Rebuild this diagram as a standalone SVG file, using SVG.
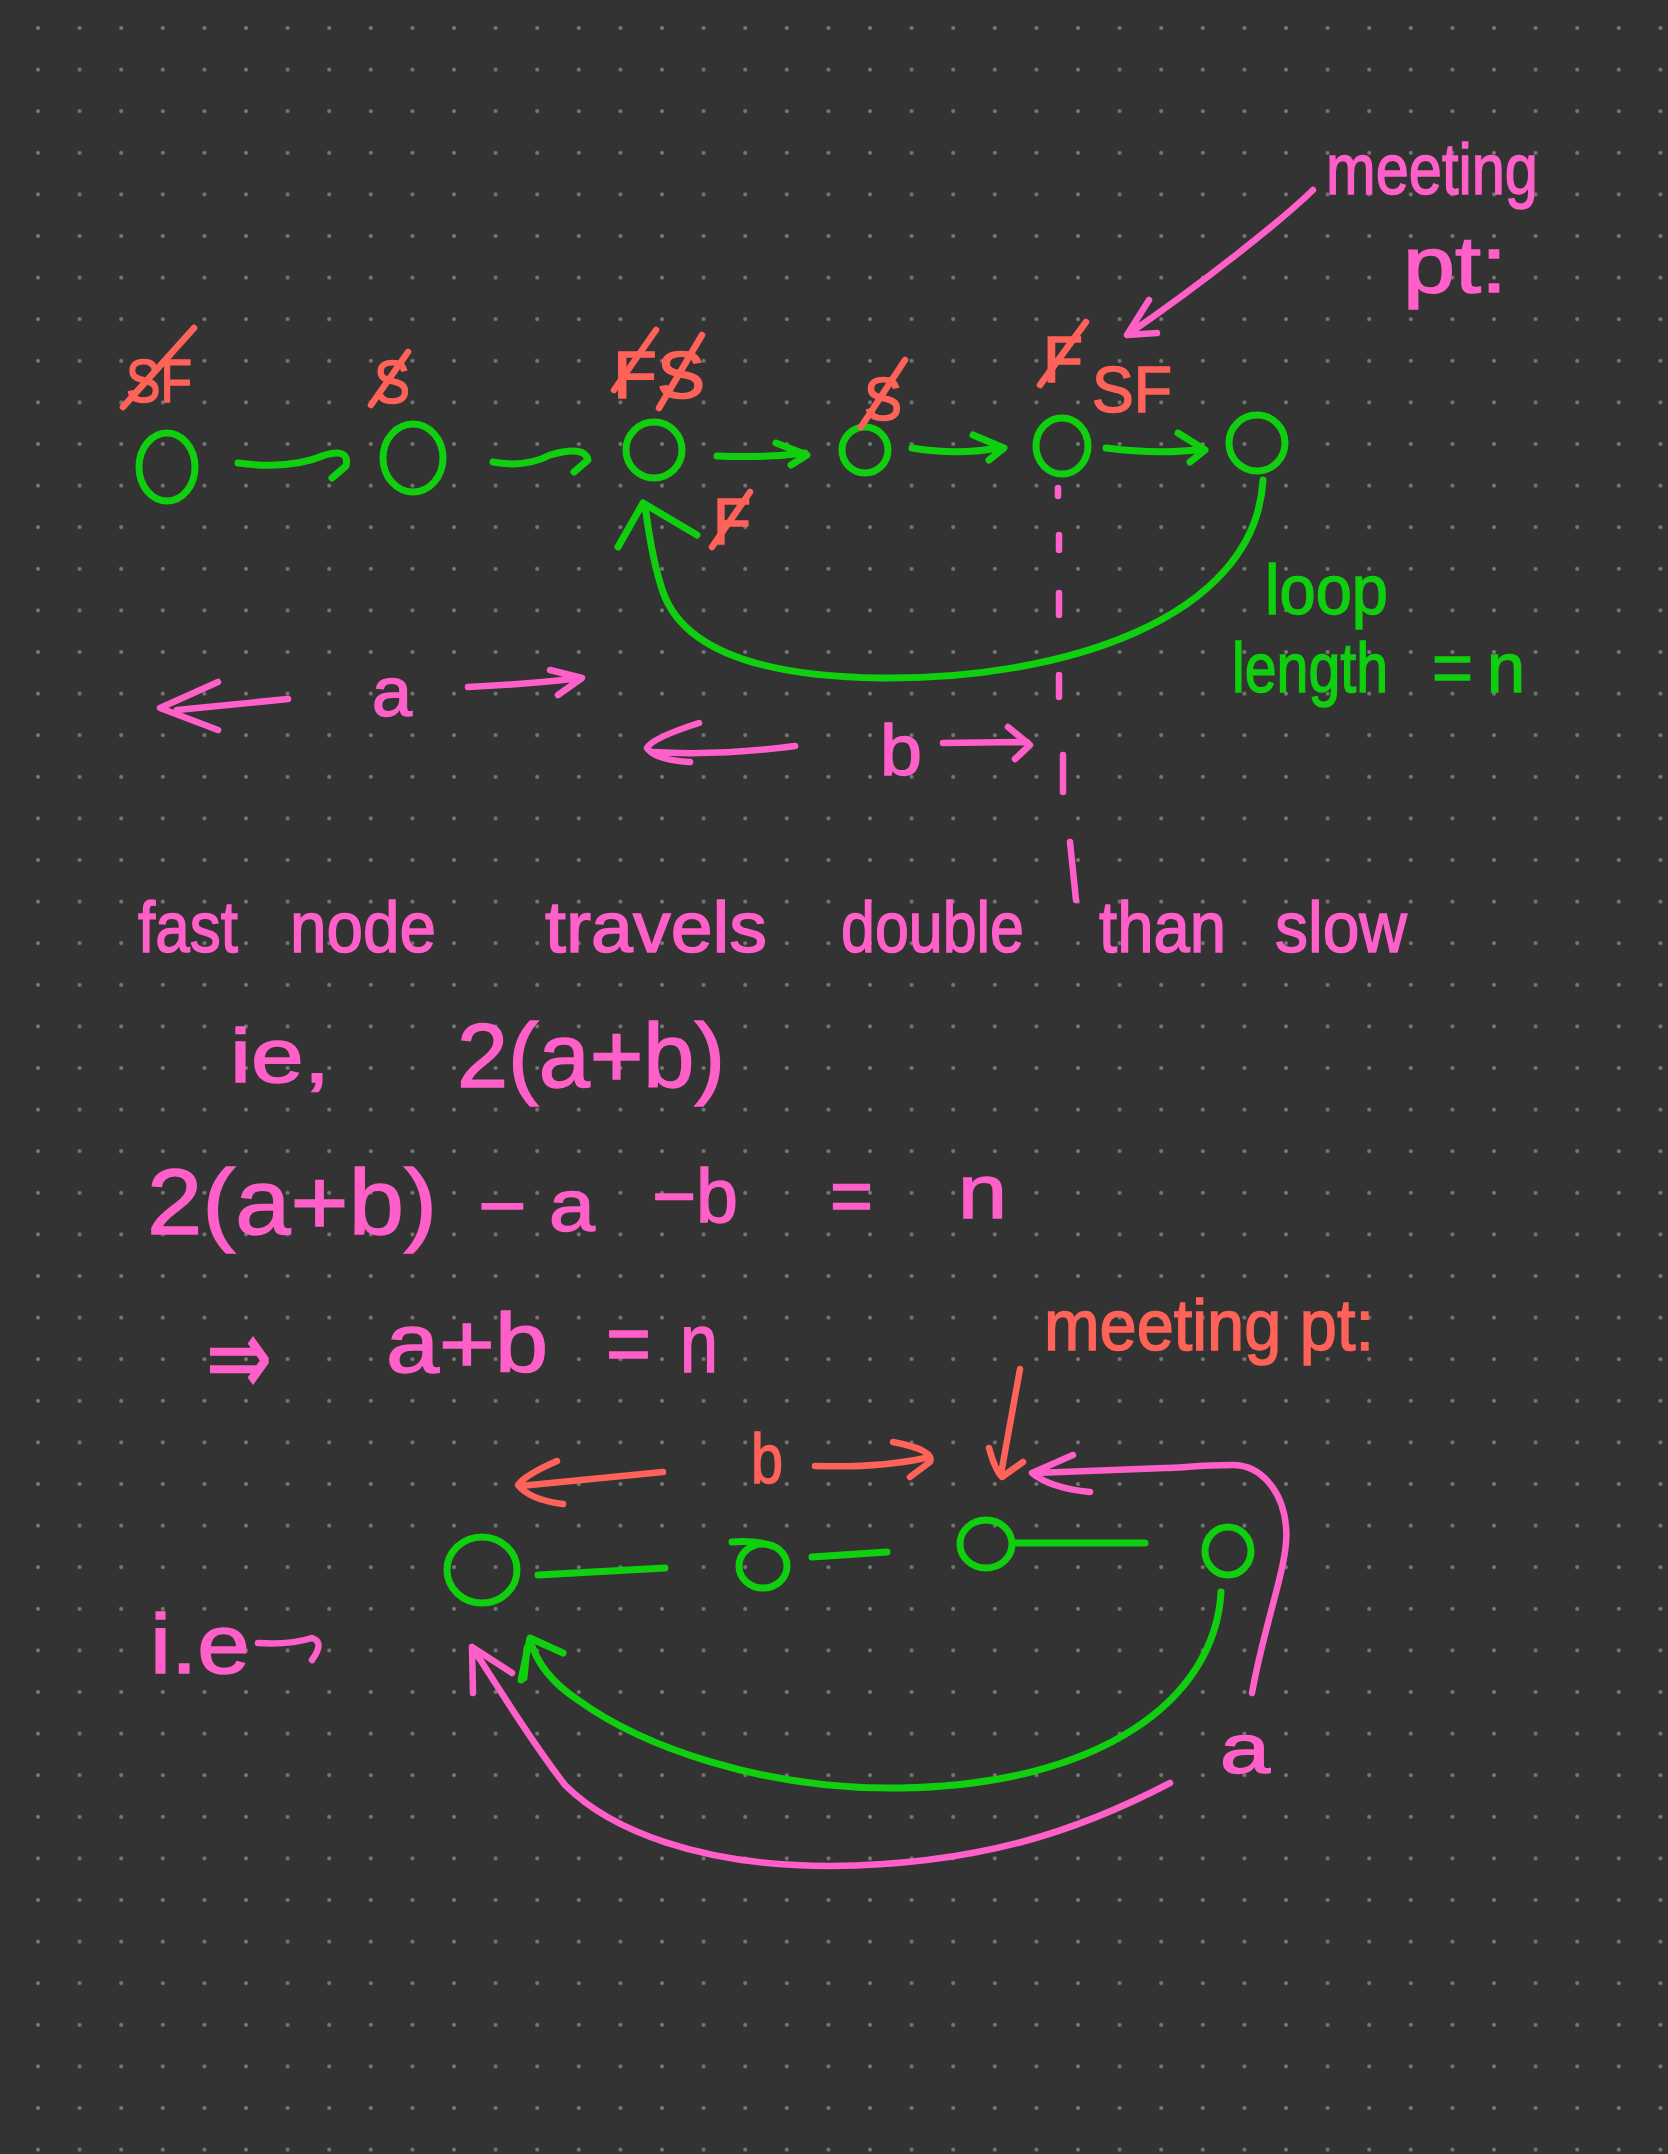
<svg xmlns="http://www.w3.org/2000/svg" width="1668" height="2154" viewBox="0 0 1668 2154">
<defs>
<pattern id="dots" x="17.2" y="7.2" width="41.6" height="41.6" patternUnits="userSpaceOnUse">
<circle cx="20.8" cy="20.8" r="2" fill="#7a7a7a"/>
</pattern>
<style>
.g{fill:none;stroke:#0fcf0f;stroke-width:7;stroke-linecap:round;stroke-linejoin:round}
.p{fill:none;stroke:#ff5fc8;stroke-width:6.5;stroke-linecap:round;stroke-linejoin:round}
.r{fill:none;stroke:#ff6259;stroke-width:6.5;stroke-linecap:round;stroke-linejoin:round}
.tp{fill:#ff5fc8;stroke:#ff5fc8;stroke-width:1.5;font-family:"Liberation Sans","DejaVu Sans",sans-serif}
.tr{fill:#ff6259;stroke:#ff6259;stroke-width:1.5;font-family:"Liberation Sans","DejaVu Sans",sans-serif}
.tg{fill:#0fcf0f;stroke:#0fcf0f;stroke-width:1.5;font-family:"Liberation Sans","DejaVu Sans",sans-serif}
</style>
</defs>
<rect width="1668" height="2154" fill="#333333"/>
<rect width="1668" height="2154" fill="url(#dots)"/>

<!-- top row nodes -->
<g id="node1"><ellipse class="g" cx="167" cy="467" rx="28" ry="34"/></g>
<g id="node2"><ellipse class="g" cx="413" cy="458" rx="30" ry="34"/></g>
<g id="node3"><ellipse class="g" cx="654" cy="450" rx="28" ry="28"/></g>
<g id="node4"><ellipse class="g" cx="865" cy="450" rx="23" ry="23"/></g>
<g id="node5"><ellipse class="g" cx="1062" cy="446" rx="26" ry="28"/></g>
<g id="node6"><ellipse class="g" cx="1257" cy="443" rx="28" ry="28"/></g>

<!-- bottom row nodes -->
<g id="nodeA"><ellipse class="g" cx="482" cy="1570" rx="35" ry="33"/></g>
<g id="nodeB"><ellipse class="g" cx="763" cy="1566" rx="24" ry="22"/><path class="g" d="M732,1542 Q755,1540 772,1546"/></g>
<g id="nodeC"><ellipse class="g" cx="986" cy="1544" rx="26" ry="24"/></g>
<g id="nodeD"><ellipse class="g" cx="1228" cy="1551" rx="23" ry="24"/></g>

<g id="connectors">
<!-- top row arrows -->
<path class="g" d="M238,463 Q290,470 325,455 Q350,448 346,466 L332,478"/>
<path class="g" d="M493,462 Q525,468 550,455 Q585,445 588,460 L574,472"/>
<path class="g" d="M717,456 Q765,458 805,453 M776,443 L807,455 L791,465"/>
<path class="g" d="M912,448 Q960,456 1002,447 M973,435 L1004,448 L989,460"/>
<path class="g" d="M1106,448 Q1160,455 1203,449 M1178,433 L1205,450 L1190,462"/>
<!-- top loop -->
<path class="g" d="M1263,480 C1255,620 1060,680 880,678 C740,676 680,640 663,592 Q652,560 645,505"/>
<path class="g" d="M618,547 L643,503 L697,535"/>
<!-- pink dashed line -->
<path class="p" d="M1058,488 L1058,496 M1059,535 L1059,550 M1059,593 L1059,615 M1059,675 L1059,697 M1063,755 L1063,792 M1070,842 L1076,900"/>
<!-- meeting pt arrow top -->
<path class="p" d="M1313,190 C1280,222 1200,285 1127,335 M1149,300 L1127,335 L1157,333"/>
<!-- a arrows -->
<path class="p" d="M288,699 L177,710 M218,682 L160,708 L218,730"/>
<path class="p" d="M468,687 Q530,684 580,678 M550,670 L582,678 L558,695"/>
<!-- b arrows -->
<path class="p" d="M795,746 Q720,756 652,752 M699,723 Q652,738 647,748 Q655,760 690,762"/>
<path class="p" d="M943,743 L1027,742 M1008,727 L1030,745 L1015,759"/>
<!-- bottom row links -->
<path class="g" d="M538,1575 L665,1568"/>
<path class="g" d="M812,1557 L887,1552"/>
<path class="g" d="M1013,1543 L1145,1543"/>
<!-- bottom green loop -->
<path class="g" d="M1221,1592 C1215,1700 1100,1785 900,1788 C760,1790 640,1745 578,1700 Q540,1675 530,1640"/>
<path class="g" d="M521,1680 L530,1638 L563,1653 M524,1678 L527,1648"/>
<!-- bottom pink loop -->
<path class="p" d="M1170,1783 C1080,1830 980,1865 830,1866 C700,1866 610,1830 565,1785 C530,1740 500,1690 472,1647 M473,1693 L472,1647 L512,1673"/>
<!-- pink right arrow into meeting pt -->
<path class="p" d="M1252,1693 C1265,1620 1290,1560 1286,1527 C1283,1490 1260,1465 1233,1465 C1200,1465 1180,1468 1165,1468 L1035,1473 M1073,1455 L1032,1473 Q1050,1488 1090,1492"/>
<!-- red meeting pt arrow -->
<path class="r" d="M1020,1369 L1001,1474 M989,1448 Q995,1470 1002,1477 L1023,1462"/>
<!-- red b arrows -->
<path class="r" d="M663,1472 L520,1486 M557,1461 Q525,1475 518,1485 Q530,1500 563,1504"/>
<path class="r" d="M815,1466 Q880,1468 925,1458 M893,1442 Q935,1450 930,1462 L910,1477"/>
<!-- i.e arrow -->
<path class="p" d="M258,1643 Q290,1645 312,1638 Q325,1642 312,1660"/>
</g>

<g id="labels-pointers">
<text class="tr" x="126" y="402" font-size="62" textLength="66" lengthAdjust="spacingAndGlyphs">SF</text>
<path class="r" d="M123,407 L194,328"/>
<text class="tr" x="374" y="403" font-size="62" textLength="36" lengthAdjust="spacingAndGlyphs">S</text>
<path class="r" d="M371,405 L408,352"/>
<text class="tr" x="613" y="398" font-size="66" textLength="92" lengthAdjust="spacingAndGlyphs">FS</text>
<path class="r" d="M614,390 L656,330 M659,408 L702,335"/>
<text class="tr" x="864" y="420" font-size="62" textLength="38" lengthAdjust="spacingAndGlyphs">S</text>
<path class="r" d="M861,427 L905,360"/>
<text class="tr" x="1043" y="382" font-size="64" textLength="40" lengthAdjust="spacingAndGlyphs">F</text>
<path class="r" d="M1040,385 L1086,322"/>
<text class="tr" x="1092" y="412" font-size="64" textLength="80" lengthAdjust="spacingAndGlyphs">SF</text>
<text class="tr" x="713" y="544" font-size="64" textLength="38" lengthAdjust="spacingAndGlyphs">F</text>
<path class="r" d="M712,547 L750,492"/>
</g>

<g id="texts">
<text class="tp" x="1326" y="194" font-size="72" textLength="212" lengthAdjust="spacingAndGlyphs">meeting</text>
<text class="tp" x="1403" y="292" font-size="80" textLength="104" lengthAdjust="spacingAndGlyphs">pt:</text>
<text class="tg" x="1265" y="614" font-size="70" textLength="123" lengthAdjust="spacingAndGlyphs">loop</text>
<text class="tg" x="1232" y="692" font-size="70" textLength="156" lengthAdjust="spacingAndGlyphs">length</text>
<text class="tg" x="1432" y="692" font-size="70" textLength="41" lengthAdjust="spacingAndGlyphs">=</text>
<text class="tg" x="1487" y="692" font-size="70" textLength="38" lengthAdjust="spacingAndGlyphs">n</text>
<text class="tp" x="372" y="716" font-size="70" textLength="40" lengthAdjust="spacingAndGlyphs">a</text>
<text class="tp" x="880" y="775" font-size="72" textLength="42" lengthAdjust="spacingAndGlyphs">b</text>

<text class="tp" x="138" y="952" font-size="72" textLength="100" lengthAdjust="spacingAndGlyphs">fast</text>
<text class="tp" x="290" y="952" font-size="72" textLength="146" lengthAdjust="spacingAndGlyphs">node</text>
<text class="tp" x="545" y="952" font-size="72" textLength="222" lengthAdjust="spacingAndGlyphs">travels</text>
<text class="tp" x="841" y="952" font-size="72" textLength="183" lengthAdjust="spacingAndGlyphs">double</text>
<text class="tp" x="1099" y="952" font-size="72" textLength="127" lengthAdjust="spacingAndGlyphs">than</text>
<text class="tp" x="1275" y="952" font-size="72" textLength="132" lengthAdjust="spacingAndGlyphs">slow</text>

<text class="tp" x="230" y="1082" font-size="76" textLength="100" lengthAdjust="spacingAndGlyphs">ie,</text>
<text class="tp" x="457" y="1087" font-size="90" textLength="268" lengthAdjust="spacingAndGlyphs">2(a+b)</text>

<text class="tp" x="147" y="1234" font-size="92" textLength="290" lengthAdjust="spacingAndGlyphs">2(a+b)</text>
<text class="tp" x="478" y="1231" font-size="74" textLength="117" lengthAdjust="spacingAndGlyphs">− a</text>
<text class="tp" x="652" y="1222" font-size="76" textLength="86" lengthAdjust="spacingAndGlyphs">−b</text>
<text class="tp" x="830" y="1222" font-size="76" textLength="43" lengthAdjust="spacingAndGlyphs">=</text>
<text class="tp" x="958" y="1218" font-size="76" textLength="49" lengthAdjust="spacingAndGlyphs">n</text>

<text class="tp" x="206" y="1395" font-size="110" textLength="66" lengthAdjust="spacingAndGlyphs">⇒</text>
<text class="tp" x="386" y="1372" font-size="84" textLength="162" lengthAdjust="spacingAndGlyphs">a+b</text>
<text class="tp" x="606" y="1372" font-size="84" textLength="45" lengthAdjust="spacingAndGlyphs">=</text>
<text class="tp" x="680" y="1372" font-size="84" textLength="38" lengthAdjust="spacingAndGlyphs">n</text>

<text class="tr" x="1044" y="1350" font-size="72" textLength="330" lengthAdjust="spacingAndGlyphs">meeting pt:</text>
<text class="tr" x="751" y="1483" font-size="70" textLength="32" lengthAdjust="spacingAndGlyphs">b</text>

<text class="tp" x="150" y="1673" font-size="84" textLength="100" lengthAdjust="spacingAndGlyphs">i.e</text>
<text class="tp" x="1220" y="1773" font-size="70" textLength="50" lengthAdjust="spacingAndGlyphs">a</text>
</g>
</svg>
